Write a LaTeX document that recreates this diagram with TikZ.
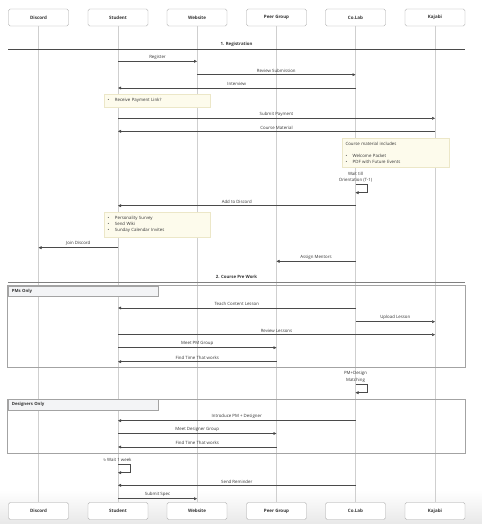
\documentclass[tikz,border=0pt]{standalone}
\usepackage{fontspec}
\setmainfont{Open Sans}
\newfontfamily\symbolfont{DejaVu Sans}
\usepackage{tikz}
\usetikzlibrary{arrows.meta, positioning, calc}

\definecolor{lifegray}{HTML}{CFCFCF}
\definecolor{linegray}{HTML}{4A4A4A}
\definecolor{boxgray}{HTML}{A3A3A3}
\definecolor{notefill}{HTML}{FDFBEC}
\definecolor{noteline}{HTML}{ECE7C8}
\definecolor{tabfill}{HTML}{F3F4F6}
\definecolor{textgray}{HTML}{333333}

% message between two lifelines: name, from, to, y, label
\newcommand{\msgline}[5]{%
  \coordinate (#1-a) at (#2 |- 0,#4);
  \coordinate (#1-b) at (#3 |- 0,#4);
  \draw[msg] (#1-a) -- node[msglabel] {#5} (#1-b);
}
% message to self: name, lifeline, y
\newcommand{\selfloop}[3]{%
  \coordinate (#1-a) at (#2 |- 0,#3);
  \coordinate (#1-b) at (#2 |- 0,#3+8);
  \draw[msg] (#1-a) -- ++(12,0) |- (#1-b);
}

\begin{document}
\begin{tikzpicture}[
    x=0.5mm, y=-0.5mm,
    actor/.style={rectangle, draw=boxgray, fill=white, rounded corners=0.8mm, line width=0.5pt, minimum width=30mm, minimum height=8.5mm, font=\fontsize{6.4}{7}\selectfont\bfseries, text=textgray},
    lifeline/.style={draw=lifegray, line width=0.8pt},
    msg/.style={-{Stealth[length=1.5mm, width=1.4mm, inset=0pt]}, draw=linegray, line width=0.7pt},
    msglabel/.style={above=0.8mm, inner sep=0.5pt, font=\fontsize{6.2}{7}\selectfont, text=textgray},
    note/.style={rectangle, draw=noteline, fill=notefill, anchor=north west, inner xsep=1.7mm, inner ysep=0.5mm, align=left, font=\fontsize{6.2}{9}\selectfont, text=textgray},
    section/.style={inner sep=0.5pt, font=\fontsize{6.2}{7}\selectfont\bfseries, text=textgray},
    divider/.style={draw=linegray, line width=0.9pt},
    groupbox/.style={draw=boxgray, line width=0.6pt},
    grouptab/.style={rectangle, draw=boxgray, fill=tabfill, line width=0.6pt, anchor=north west, minimum height=5.3mm, text width=71.3mm, inner xsep=2mm, align=left, font=\fontsize{6.1}{7}\selectfont\bfseries, text=textgray},
    looplabel/.style={align=center, inner sep=0.5pt, font=\fontsize{6.2}{9.4}\selectfont, text=textgray},
]
    \useasboundingbox (0,0) rectangle (482,524);
    \shade[top color=white, bottom color=black!9] (0,490) rectangle (482,524);

    % Participants (top)
    \node[actor] (discord) at (38.5,17.5) {Discord};
    \node[actor] (student) at (118,17.5) {Student};
    \node[actor] (website) at (197,17.5) {Website};
    \node[actor] (peer) at (276.5,17.5) {Peer Group};
    \node[actor] (colab) at (355.5,17.5) {Co.Lab};
    \node[actor] (kajabi) at (435,17.5) {Kajabi};

    % Participants (bottom)
    \node[actor] (discord-end) at (38.5,511) {Discord};
    \node[actor] (student-end) at (118,511) {Student};
    \node[actor] (website-end) at (197,511) {Website};
    \node[actor] (peer-end) at (276.5,511) {Peer Group};
    \node[actor] (colab-end) at (355.5,511) {Co.Lab};
    \node[actor] (kajabi-end) at (435,511) {Kajabi};

    % Lifelines
    \draw[lifeline] (discord) -- (discord-end);
    \draw[lifeline] (student) -- (student-end);
    \draw[lifeline] (website) -- (website-end);
    \draw[lifeline] (peer) -- (peer-end);
    \draw[lifeline] (colab) -- (colab-end);
    \draw[lifeline] (kajabi) -- (kajabi-end);

    % Section 1: Registration
    \node[section] (sec1) at (236.5,44.7) {1. Registration};
    \coordinate (sec1-l) at (8,49.3);
    \coordinate (sec1-r) at (465,49.3);
    \draw[divider] (sec1-l) -- (sec1-r);

    \msgline{register}{student}{website}{61.3}{Register}
    \msgline{review}{website}{colab}{74.7}{Review Submission}
    \msgline{interview}{colab}{student}{88}{Interview}
    \node[note, minimum width=53mm, minimum height=6.65mm, text width=49.6mm] (note1) at (104,93.7)
        {\makebox[3.7mm][l]{\textbullet}Receive Payment Link?};
    \msgline{payment}{student}{kajabi}{118.3}{Submit Payment}
    \msgline{material}{kajabi}{student}{131.3}{Course Material}
    \node[note, minimum width=53.5mm, minimum height=14.8mm, text width=50.1mm, font=\fontsize{6.2}{8.3}\selectfont] (note2) at (342,137.7)
        {Course material includes\\[8.3pt]
         \makebox[3.6mm][l]{\textbullet}Welcome Packet\\
         \makebox[3.6mm][l]{\textbullet}PDF with Future Events};
    \node[looplabel] (orient-lbl) at (355.5,177) {Wait till\\Orientation (T-1)};
    \selfloop{orient}{colab}{184.7}
    \msgline{discordadd}{colab}{student}{205.7}{Add to Discord}
    \node[note, minimum width=53mm, minimum height=12.65mm, text width=49.6mm] (note3) at (104,211.7)
        {\makebox[3.7mm][l]{\textbullet}Personality Survey\\
         \makebox[3.7mm][l]{\textbullet}Send Wiki\\
         \makebox[3.7mm][l]{\textbullet}Sunday Calendar Invites};
    \msgline{join}{student}{discord}{247.7}{Join Discord}
    \msgline{mentors}{colab}{peer}{261.3}{Assign Mentors}

    % Section 2: Course Pre Work
    \node[section] (sec2) at (236.5,276.7) {2. Course Pre Work};
    \coordinate (sec2-l) at (8,282);
    \coordinate (sec2-r) at (465,282);
    \draw[divider, draw=linegray!70, line width=1.1pt] (sec2-l) -- (sec2-r);

    % Group: PMs only
    \coordinate (pm-nw) at (7.7,285.7);
    \coordinate (pm-se) at (465.3,367);
    \draw[groupbox] (pm-nw) rectangle (pm-se);
    \msgline{teach}{colab}{student}{308}{Teach Content Lesson}
    \msgline{upload}{colab}{kajabi}{321.7}{Upload Lesson}
    \msgline{lessons}{student}{kajabi}{334.7}{Review Lessons}
    \msgline{meetpm}{student}{peer}{347.7}{Meet PM Group}
    \msgline{findpm}{peer}{student}{361.7}{Find Time That works}
    \node[grouptab] (pm-tab) at (pm-nw) {PMs Only};

    \node[looplabel] (match-lbl) at (355.5,377.2) {PM+Design\\Matching};
    \selfloop{match}{colab}{384.7}

    % Group: Designers only
    \coordinate (des-nw) at (7.7,399);
    \coordinate (des-se) at (465.3,453.3);
    \draw[groupbox] (des-nw) rectangle (des-se);
    \msgline{intro}{colab}{student}{420.7}{Introduce PM + Designer}
    \msgline{meetdes}{student}{peer}{433.5}{Meet Designer Group}
    \msgline{finddes}{peer}{student}{447}{Find Time That works}
    \node[grouptab] (des-tab) at (des-nw) {Designers Only};

    \node[looplabel] (week-lbl) at (117.5,459.7) {{\symbolfont\fontsize{5}{6}\selectfont ↻}\,Wait 1 week};
    \selfloop{week}{student}{464.7}
    \msgline{reminder}{colab}{student}{485.3}{Send Reminder}
    \msgline{spec}{student}{website}{498.7}{Submit Spec}
\end{tikzpicture}
\end{document}
